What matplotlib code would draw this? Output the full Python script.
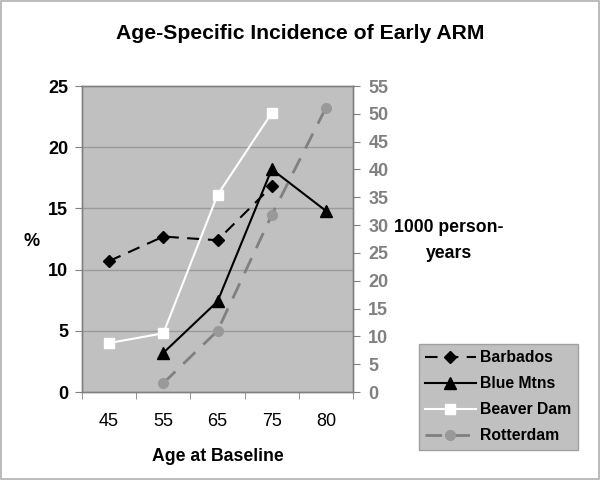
import matplotlib
matplotlib.use("Agg")
import matplotlib.pyplot as plt
from matplotlib.patches import Rectangle

plt.rcParams['font.family'] = ['Liberation Sans', 'DejaVu Sans']

ages = ["45", "55", "65", "75", "80"]
barbados = [10.7, 12.7, 12.4, 16.8, None]
blue_mtns = [None, 3.2, 7.4, 18.2, 14.8]
beaver_dam = [4.0, 4.8, 16.1, 22.8, None]
rotterdam = [None, 1.6, 11.0, 31.8, 51.1]

left_ticks = [0, 5, 10, 15, 20, 25]
right_ticks = [0, 5, 10, 15, 20, 25, 30, 35, 40, 45, 50, 55]

def pts(vals):
    xs = [i for i, v in enumerate(vals) if v is not None]
    ys = [v for v in vals if v is not None]
    return xs, ys

fig = plt.figure(figsize=(6, 4.8), dpi=100)
fig.patches.append(Rectangle((0.002, 0.002), 0.996, 0.996, transform=fig.transFigure,
                             fill=False, edgecolor='#b0b0b0', linewidth=1.2))
ax = fig.add_axes([0.1367, 0.1833, 0.4517, 0.6375])
ax.set_facecolor('#c0c0c0')
ax2 = ax.twinx()

ax.set_xlim(-0.5, 4.5)
ax.set_ylim(0, 25)
ax2.set_ylim(0, 55)

ax.set_yticks(left_ticks)
ax.set_yticklabels([str(t) for t in left_ticks], fontsize=13, fontweight='bold', color='black')
ax2.set_yticks(right_ticks)
ax2.set_yticklabels([str(t) for t in right_ticks], fontsize=13, fontweight='bold', color='#808080')

ax.set_xticks(range(len(ages)))
ax.set_xticklabels(ages, fontsize=13)
ax.set_xticks([i - 0.5 for i in range(len(ages) + 1)], minor=True)
ax.tick_params(axis='x', which='major', length=0, pad=15)
ax.tick_params(axis='x', which='minor', length=5, color='#808080', direction='out')
ax.tick_params(axis='y', length=5, color='#808080', direction='out', pad=5)
ax2.tick_params(axis='y', length=5, color='#808080', direction='out', pad=6)

for y in left_ticks[1:-1]:
    ax.axhline(y, color='#9a9a9a', linewidth=1.0, zorder=0.5)

for a in (ax, ax2):
    for s in a.spines.values():
        s.set_color('#808080')
        s.set_linewidth(1.0)

x, y = pts(barbados)
l1, = ax.plot(x, y, color='black', linestyle=(0, (6, 4)), linewidth=1.5, marker='D',
              markersize=6, markerfacecolor='black', markeredgecolor='black', label='Barbados', zorder=3)
x, y = pts(blue_mtns)
l2, = ax.plot(x, y, color='black', linestyle='-', linewidth=1.5, marker='^',
              markersize=8, markerfacecolor='black', markeredgecolor='black', label='Blue Mtns', zorder=3)
x, y = pts(beaver_dam)
l3, = ax.plot(x, y, color='white', linestyle='-', linewidth=1.5, marker='s',
              markersize=7, markerfacecolor='white', markeredgecolor='white', label='Beaver Dam', zorder=3)
x, y = pts(rotterdam)
l4, = ax2.plot(x, y, color='#808080', linestyle=(0, (6, 4)), linewidth=2, marker='o',
               markersize=7, markerfacecolor='#999999', markeredgecolor='#999999', label='Rotterdam', zorder=3)

fig.text(0.5, 0.931, 'Age-Specific Incidence of Early ARM', ha='center', va='center',
         fontsize=15.2, fontweight='bold')
fig.text(0.053, 0.496, '%', ha='center', va='center', fontsize=13, fontweight='bold')
fig.text(0.748, 0.499, '1000 person-\nyears', ha='center', va='center', fontsize=12.7,
         fontweight='bold', linespacing=1.75)
ax.set_xlabel('Age at Baseline', fontsize=12.7, fontweight='bold', labelpad=13)

leg = fig.legend(handles=[l1, l2, l3, l4], loc='upper left',
                 bbox_to_anchor=(419 / 600, 1 - 344 / 480), prop={'size': 11.3, 'weight': 'bold'},
                 frameon=True, fancybox=False, facecolor='#c0c0c0', edgecolor='#a0a0a0',
                 framealpha=1, borderpad=0.4, labelspacing=0.7, handlelength=3.2,
                 handletextpad=0.3, borderaxespad=0)
leg.get_frame().set_linewidth(1.0)

fig.savefig('out.png', dpi=100)
